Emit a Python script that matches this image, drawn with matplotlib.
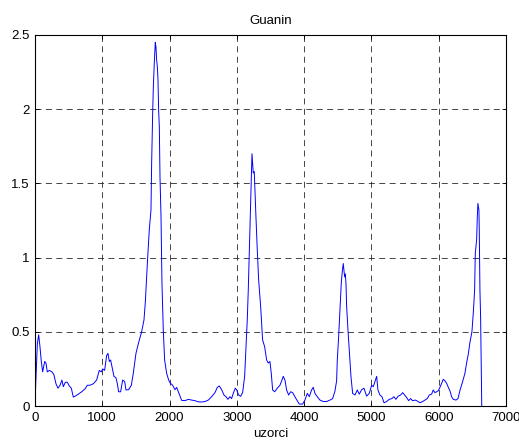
import numpy as np
import matplotlib.pyplot as plt
from matplotlib.ticker import FormatStrFormatter

plt.rcParams['font.family'] = ['Liberation Sans', 'DejaVu Sans']
plt.rcParams['font.size'] = 9.5
plt.rcParams['lines.scale_dashes'] = False

# uzorak (indeks) i vrijednost signala za guanin
uzorci = [0, 35, 55, 74, 94, 114, 144, 163, 183, 213, 253, 282, 312, 342, 372, 401,
          421, 451, 481, 510, 540, 570, 600, 644, 694, 743, 778, 817, 867, 916, 956,
          986, 1006, 1035, 1065, 1085, 1105, 1124, 1144, 1174, 1204, 1224, 1243, 1273,
          1303, 1333, 1352, 1392, 1432, 1461, 1501, 1536, 1585, 1620, 1640, 1670, 1699,
          1724, 1734, 1749, 1759, 1773, 1788, 1798, 1808, 1818, 1828, 1838, 1848, 1858,
          1873, 1887, 1907, 1927, 1957, 1987, 2006, 2046, 2081, 2106, 2145, 2180, 2229,
          2279, 2328, 2378, 2427, 2477, 2526, 2576, 2626, 2675, 2710, 2739, 2774, 2809,
          2838, 2868, 2898, 2922, 2947, 2977, 2996, 3026, 3056, 3086, 3116, 3135, 3155,
          3170, 3185, 3200, 3215, 3225, 3235, 3244, 3259, 3269, 3284, 3304, 3324, 3354,
          3383, 3413, 3443, 3467, 3492, 3512, 3532, 3562, 3601, 3641, 3671, 3690, 3715,
          3740, 3770, 3800, 3829, 3879, 3928, 3978, 4012, 4047, 4077, 4111, 4136, 4161,
          4195, 4235, 4285, 4334, 4384, 4424, 4458, 4483, 4493, 4513, 4533, 4552, 4567,
          4582, 4592, 4602, 4612, 4622, 4632, 4652, 4671, 4696, 4721, 4756, 4790, 4820,
          4855, 4889, 4929, 4968, 5004, 5028, 5053, 5078, 5097, 5127, 5157, 5187, 5226,
          5265, 5305, 5335, 5364, 5399, 5434, 5464, 5493, 5523, 5553, 5582, 5612, 5652,
          5681, 5721, 5761, 5796, 5830, 5860, 5895, 5919, 5944, 5969, 5994, 6019, 6044,
          6068, 6093, 6118, 6143, 6167, 6192, 6217, 6257, 6287, 6316, 6356, 6390, 6415,
          6440, 6465, 6494, 6514, 6534, 6544, 6564, 6574, 6583, 6598, 6603, 6613, 6623,
          6633, 6640]
guanin = [0.02, 0.42, 0.48, 0.40, 0.30, 0.23, 0.30, 0.29, 0.23, 0.24, 0.23, 0.21, 0.15,
          0.12, 0.14, 0.175, 0.13, 0.16, 0.16, 0.135, 0.12, 0.06, 0.067, 0.08, 0.096,
          0.115, 0.14, 0.14, 0.15, 0.175, 0.24, 0.23, 0.25, 0.24, 0.34, 0.355, 0.30,
          0.31, 0.265, 0.20, 0.19, 0.15, 0.096, 0.096, 0.175, 0.165, 0.108, 0.11, 0.14,
          0.22, 0.355, 0.42, 0.50, 0.58, 0.70, 0.96, 1.19, 1.32, 1.64, 1.97, 2.15, 2.31,
          2.45, 2.42, 2.33, 2.29, 2.20, 1.99, 1.88, 1.545, 1.28, 0.83, 0.51, 0.31, 0.22,
          0.175, 0.157, 0.14, 0.11, 0.125, 0.08, 0.038, 0.036, 0.045, 0.04, 0.036, 0.028,
          0.027, 0.03, 0.04, 0.063, 0.09, 0.126, 0.135, 0.11, 0.074, 0.063, 0.045, 0.063,
          0.05, 0.085, 0.12, 0.11, 0.074, 0.065, 0.09, 0.2, 0.38, 0.58, 0.78, 1.03, 1.30,
          1.545, 1.70, 1.635, 1.57, 1.58, 1.455, 1.275, 1.05, 0.85, 0.67, 0.445, 0.40,
          0.31, 0.29, 0.30, 0.22, 0.108, 0.096, 0.12, 0.14, 0.175, 0.20, 0.175, 0.108,
          0.074, 0.096, 0.09, 0.05, 0.013, 0.013, 0.04, 0.085, 0.063, 0.108, 0.126, 0.085,
          0.063, 0.04, 0.03, 0.03, 0.04, 0.05, 0.10, 0.17, 0.31, 0.467, 0.647, 0.827,
          0.905, 0.96, 0.916, 0.87, 0.89, 0.827, 0.67, 0.51, 0.377, 0.20, 0.085, 0.074,
          0.108, 0.08, 0.11, 0.12, 0.067, 0.085, 0.14, 0.13, 0.165, 0.20, 0.108, 0.074,
          0.063, 0.022, 0.03, 0.045, 0.05, 0.063, 0.045, 0.067, 0.074, 0.09, 0.074, 0.058,
          0.036, 0.05, 0.036, 0.04, 0.034, 0.022, 0.03, 0.04, 0.05, 0.074, 0.08, 0.108,
          0.09, 0.096, 0.103, 0.126, 0.153, 0.18, 0.17, 0.153, 0.126, 0.103, 0.063, 0.045,
          0.04, 0.05, 0.105, 0.165, 0.22, 0.29, 0.35, 0.43, 0.50, 0.625, 0.78, 1.03, 1.12,
          1.275, 1.365, 1.32, 1.19, 0.78, 0.60, 0.22, 0.0]

xticks = [0, 1000, 2000, 3000, 4000, 5000, 6000, 7000]
yticks = [0, 0.5, 1, 1.5, 2, 2.5]

fig = plt.figure(figsize=(5.19, 4.43), dpi=100)
ax = fig.add_axes([0.0674, 0.0835, 0.9075, 0.8375])

ax.plot(uzorci, guanin, color=(0, 0, 1), linewidth=0.7)

ax.set_xlim(0, 7000)
ax.set_ylim(0, 2.5)
ax.set_xticks(xticks)
ax.set_yticks(yticks)
ax.yaxis.set_major_formatter(FormatStrFormatter('%g'))

ax.grid(True, color='0.15', linestyle=(0, (4.3, 3.2)), linewidth=0.6)
ax.tick_params(direction='in', length=3, width=0.6, top=True, right=True,
               labelsize=9.5, colors='k')
ax.tick_params(axis='x', pad=4.5)
ax.tick_params(axis='y', pad=4)
for s in ax.spines.values():
    s.set_linewidth(0.8)

ax.set_title('Guanin', fontsize=9.5, pad=8)
ax.set_xlabel('uzorci', fontsize=9.5, labelpad=3)

plt.savefig('out.png', dpi=100)
